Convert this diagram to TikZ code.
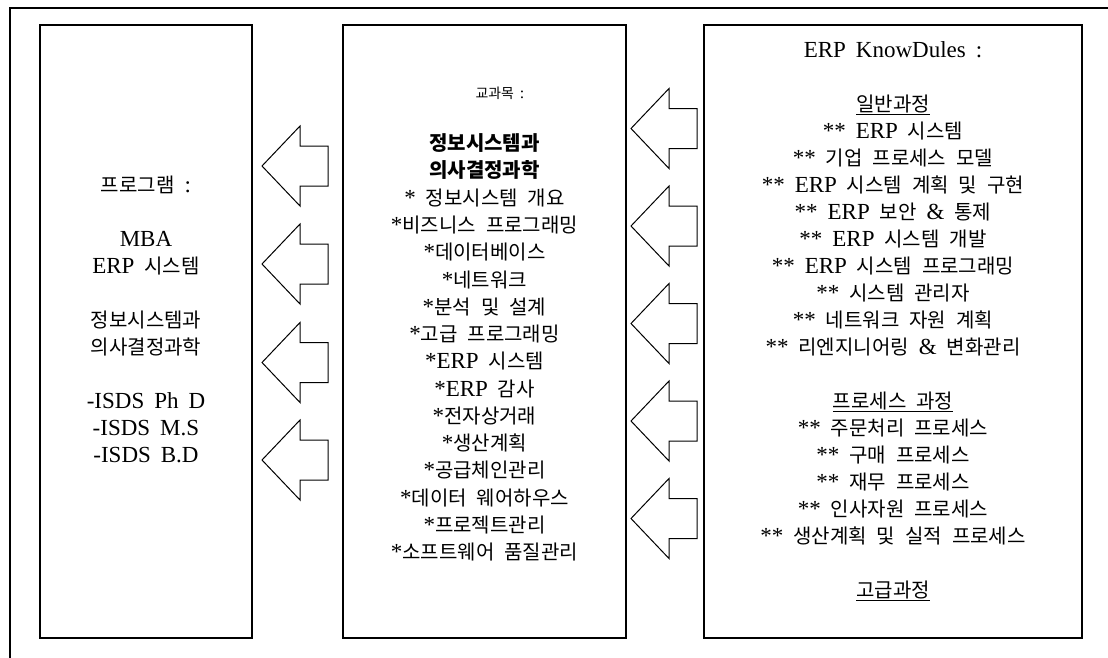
\documentclass[tikz,border=0pt]{standalone}
\usepackage{fontspec}
\setmainfont{Liberation Serif}
\newfontfamily\kr[Scale=0.87]{Noto Sans CJK KR}
\XeTeXinterchartokenstate=1
\newXeTeXintercharclass\HangulClass
\newcount\hangulcnt
\hangulcnt="AC00
\loop \XeTeXcharclass\hangulcnt=\HangulClass \advance\hangulcnt by 1 \ifnum\hangulcnt<"D7A4 \repeat
\XeTeXinterchartoks 0 \HangulClass = {\kr}
\XeTeXinterchartoks 4095 \HangulClass = {\kr}
\XeTeXinterchartoks \HangulClass 0 = {\rmfamily}
\XeTeXinterchartoks \HangulClass 4095 = {\rmfamily}
\newcommand\bodyfont{\fontsize{23}{27}\selectfont\spaceskip=10pt\relax}
\newcommand\listfont{\fontsize{23}{27.27}\selectfont\spaceskip=10pt\relax}
\newcommand\smallfont{\fontsize{16}{18}\selectfont\spaceskip=6pt\relax}
\newcommand\topstrut{\vrule width 0pt height 20pt depth 0pt\relax}
\begin{document}
\begin{tikzpicture}[x=1pt,y=-1pt,
  box/.style={draw, line width=2pt, rectangle, minimum height=613pt, inner sep=0pt},
  txt/.style={align=center, inner sep=0pt, anchor=north, font=\bodyfont},
  arrowline/.style={draw, line width=1pt, line join=miter, fill=white},
  larrow/.pic={\path[arrowline] (0,0) -- (38,-40) -- (38,-20) -- (66,-20) -- (66,20) -- (38,20) -- (38,40) -- cycle;}
]
\clip (0,0) rectangle (1108,657);
\fill[white] (0,0) rectangle (1108,657);
\draw[line width=2pt] (9.5,7.5) rectangle (1140,690);

\node[box, minimum width=212pt] (prog) at (146,331.5) {};
\node[box, minimum width=283pt] (course) at (484.5,331.5) {};
\node[box, minimum width=378pt] (know) at (893,331.5) {};

\node[txt] (progtxt) at (146,172.5) {\topstrut 프로그램 :\\[27pt]
MBA\\
ERP 시스템\\[27pt]
정보시스템과\\
의사결정과학\\[27pt]
-ISDS Ph D\\
-ISDS M.S\\
-ISDS B.D};

\node[anchor=base, inner sep=0pt, font=\smallfont] (coursetitle) at (500,98) {교과목 :};

\node[txt, font=\listfont] (coursetxt) at (484.5,130.5) {\topstrut\textbf{정보시스템과}\\
\textbf{의사결정과학}\\
* 정보시스템 개요\\
*비즈니스 프로그래밍\\
*데이터베이스\\
*네트워크\\
*분석 및 설계\\
*고급 프로그래밍\\
*ERP 시스템\\
*ERP 감사\\
*전자상거래\\
*생산계획\\
*공급체인관리\\
*데이터 웨어하우스\\
*프로젝트관리\\
*소프트웨어 품질관리};

\node[txt] (knowtxt) at (893,37.5) {\topstrut ERP KnowDules :\\[27pt]
\underline{일반과정}\\
** ERP 시스템\\
** 기업 프로세스 모델\\
** ERP 시스템 계획 및 구현\\
** ERP 보안 \& 통제\\
** ERP 시스템 개발\\
** ERP 시스템 프로그래밍\\
** 시스템 관리자\\
** 네트워크 자원 계획\\
** 리엔지니어링 \& 변화관리\\[27pt]
\underline{프로세스 과정}\\
** 주문처리 프로세스\\
** 구매 프로세스\\
** 재무 프로세스\\
** 인사자원 프로세스\\
** 생산계획 및 실적 프로세스\\[27pt]
\underline{고급과정}};

\pic at (262,166) {larrow};
\pic at (262,264) {larrow};
\pic at (262,362.5) {larrow};
\pic at (262,460) {larrow};

\pic at (631,128.5) {larrow};
\pic at (631,226) {larrow};
\pic at (631,323.5) {larrow};
\pic at (631,421) {larrow};
\pic at (631,518.5) {larrow};
\end{tikzpicture}
\end{document}
